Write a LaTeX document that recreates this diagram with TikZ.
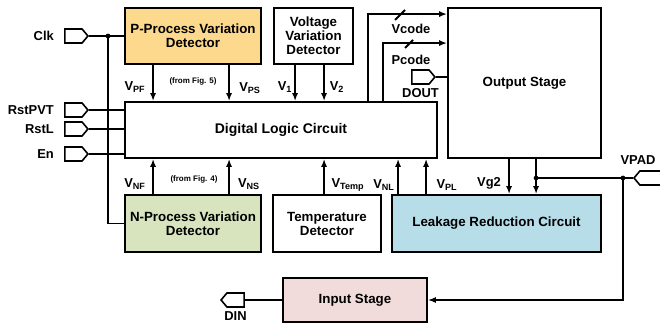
\documentclass[tikz,border=0pt]{standalone}
\usepackage{fontspec}
\setmainfont{Liberation Sans}
\usepackage{tikz}
\usetikzlibrary{arrows.meta,shapes.symbols,calc,positioning}
\tikzset{>={Latex[length=6pt,width=4.6pt]}}
\definecolor{pvFill}{HTML}{FCD98C}
\definecolor{nvFill}{HTML}{D7E4BD}
\definecolor{lkFill}{HTML}{B7DEE8}
\definecolor{inFill}{HTML}{F2DCDB}
\tikzset{
  blk/.style={draw,line width=1.4pt,align=center,inner sep=0pt,
    font=\bfseries\fontsize{10}{10.5}\selectfont},
  pad/.style={draw,line width=1.2pt,signal,signal pointer angle=100,
    minimum width=17.25pt,minimum height=10.5pt,inner sep=0pt},
  wire/.style={line width=1.4pt},
  lbl/.style={font=\bfseries\fontsize{9.7}{10.5}\selectfont,inner sep=1pt},
  note/.style={font=\bfseries\fontsize{6}{6.5}\selectfont,inner sep=0pt}
}
\newcommand{\vsig}[1]{V\textsubscript{#1}}
\newcommand{\jdot}[1]{\fill (#1) circle (1.8pt);}

\begin{document}
\begin{tikzpicture}[x=0.75pt,y=-0.75pt]
\useasboundingbox (0,0) rectangle (660,331);
\node[blk,fill=pvFill,minimum width=102pt,minimum height=42pt] (pvp) at (193,36) {P-Process Variation\\Detector};
\node[blk,minimum width=59.25pt,minimum height=42pt] (vdt) at (313.5,36) {Voltage\\Variation\\Detector};
\node[blk,minimum width=234pt,minimum height=42pt,font=\bfseries\fontsize{10.5}{12}\selectfont] (dlc) at (281,130) {Digital Logic Circuit};
\node[blk,minimum width=114.75pt,minimum height=112.5pt] (ops) at (524.5,83) {Output Stage};
\node[blk,fill=nvFill,minimum width=102pt,minimum height=42.75pt] (npv) at (193,223.5) {N-Process Variation\\Detector};
\node[blk,minimum width=81pt,minimum height=42.75pt] (tdt) at (327,223.5) {Temperature\\Detector};
\node[blk,fill=lkFill,minimum width=156.75pt,minimum height=42.75pt] (lrc) at (496.5,223.5) {Leakage Reduction Circuit};
\node[blk,fill=inFill,minimum width=108pt,minimum height=33pt] (ins) at (355,300) {Input Stage};

\node[pad,signal to=east] (clk) at (73.5,36) {};
\node[pad,signal to=east] (rpvt) at (73.5,110) {};
\node[pad,signal to=east] (rstl) at (73.5,129) {};
\node[pad,signal to=east] (en) at (73.5,154) {};
\node[pad,signal to=east] (dout) at (420.5,77) {};
\node[pad,signal to=west] (din) at (235.5,300) {};
\node[pad,signal to=west and east,minimum width=24pt] (vpad) at (650,178) {};

\node[lbl,left=6.5pt of clk] (lclk) {Clk};
\node[lbl,left=6.5pt of rpvt] (lrpvt) {RstPVT};
\node[lbl,left=6.5pt of rstl] (lrstl) {RstL};
\node[lbl,left=6.5pt of en] (len) {En};
\node[lbl,below=1.5pt of dout] (ldout) {DOUT};
\node[lbl,below=1.5pt of din] (ldin) {DIN};
\node[lbl] (lvpad) at (638,160) {VPAD};

\draw[wire] (clk.east) -- (pvp.west);
\coordinate (clkj) at (108,36);
\draw[wire] (clkj) |- (npv.west);
\jdot{clkj}
\foreach \p in {rpvt,rstl,en}
  \draw[wire] (\p.east) -- (\p.east -| dlc.west);

\draw[wire,->] ($(pvp.south west)+(29,0)$) coordinate (vpf) -- (vpf |- dlc.north);
\draw[wire,->] ($(pvp.south west)+(105,0)$) coordinate (vps) -- (vps |- dlc.north);
\draw[wire,->] ($(vdt.south west)+(22,0)$) coordinate (vone) -- (vone |- dlc.north);
\draw[wire,->] ($(vdt.south west)+(51,0)$) coordinate (vtwo) -- (vtwo |- dlc.north);
\draw[wire,->] ($(npv.north west)+(29,0)$) coordinate (vnf) -- (vnf |- dlc.south);
\draw[wire,->] ($(npv.north west)+(105,0)$) coordinate (vns) -- (vns |- dlc.south);
\draw[wire,->] ($(tdt.north west)+(52,0)$) coordinate (vtmp) -- (vtmp |- dlc.south);
\draw[wire,->] ($(lrc.north west)+(7,0)$) coordinate (vnl) -- (vnl |- dlc.south);
\draw[wire,->] ($(lrc.north west)+(35,0)$) coordinate (vpl) -- (vpl |- dlc.south);

\draw[wire,->] ($(dlc.north west)+(244,0)$) |- ($(ops.north west)+(0,7)$);
\draw[wire,->] ($(dlc.north west)+(259,0)$) |- ($(ops.north west)+(0,36)$);
\draw[wire] (395,20) -- ++(10,-10);
\draw[wire] (405,48) -- ++(8,-8);
\draw[wire] (dout.east) -- (dout.east -| ops.west);

\draw[wire,->] ($(ops.south west)+(62,0)$) coordinate (vga) -- (vga |- lrc.north);
\draw[wire,->] ($(ops.south west)+(89,0)$) coordinate (vgb) -- (vgb |- lrc.north);
\coordinate (vgj) at (vgb |- vpad);
\coordinate (padj) at ($(vpad.west)+(-10,0)$);
\draw[wire] (vgj) -- (vpad.west);
\draw[wire,->] (padj) |- (ins.east);
\jdot{vgj}
\jdot{padj}
\draw[wire] (din.east) -- (ins.west);

\node[lbl] (lvpf) at (135,87) {\vsig{PF}};
\node[note] (lf5) at (193,81) {(from Fig. 5)};
\node[lbl] (lvps) at (250,88) {\vsig{PS}};
\node[lbl] (lvone) at (285,87) {\vsig{1}};
\node[lbl] (lvtwo) at (337,87) {\vsig{2}};
\node[lbl] (lvcode) at (411,29) {Vcode};
\node[lbl] (lpcode) at (411,60) {Pcode};
\node[lbl] (lvnf) at (135,184) {\vsig{NF}};
\node[note] (lf4) at (194,179) {(from Fig. 4)};
\node[lbl] (lvns) at (249,184) {\vsig{NS}};
\node[lbl] (lvtmp) at (348,185) {\vsig{Temp}};
\node[lbl] (lvnl) at (384,185) {\vsig{NL}};
\node[lbl] (lvpl) at (447,185) {\vsig{PL}};
\node[lbl] (lvg) at (489,183) {Vg2};
\end{tikzpicture}
\end{document}
